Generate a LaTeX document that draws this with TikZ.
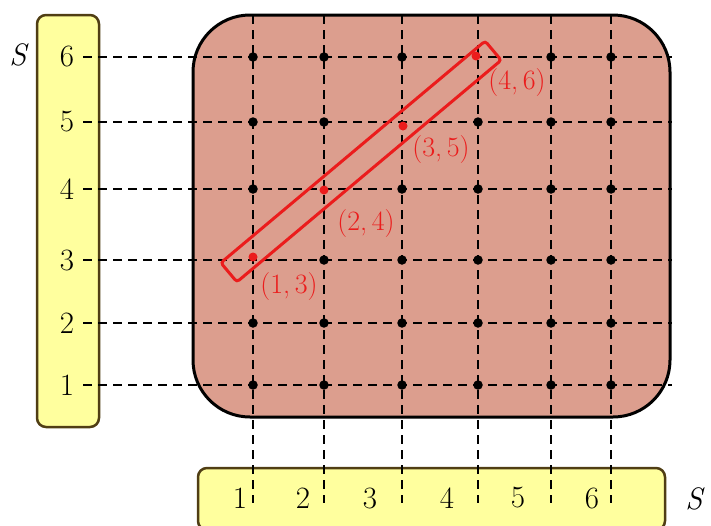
\documentclass[tikz,border=0pt]{standalone}
\definecolor{boxfill}{RGB}{220,158,142}
\definecolor{axfill}{RGB}{255,255,158}
\definecolor{axdraw}{RGB}{80,62,20}
\definecolor{hired}{RGB}{235,28,28}
\tikzset{
  axisbox/.style={draw=axdraw, fill=axfill, line width=2.5pt, rounded corners=9pt},
  samplebox/.style={draw=black, fill=boxfill, line width=3pt, rounded corners=57pt},
  gridline/.style={dash pattern=on 9pt off 6pt, line width=1.8pt, black},
  axlabel/.style={font=\fontsize{31}{34}\selectfont, inner sep=0pt},
  dot/.style={circle, fill=black, inner sep=0pt, minimum size=9.5pt},
  reddot/.style={circle, fill=hired, inner sep=0pt, minimum size=9pt},
  redlabel/.style={font=\fontsize{28}{30}\selectfont, text=hired, inner sep=0pt},
  eventbox/.style={draw=hired, line width=3pt, rounded corners=3pt, rotate=40,
    minimum width=345pt, minimum height=25pt, inner sep=0pt}
}
\begin{document}
\begin{tikzpicture}[x=1pt, y=-1pt]
\useasboundingbox (0,0) rectangle (711,525);
% boxes
\draw[axisbox] (37,15) rectangle (99,427);
\draw[samplebox] (193,15) rectangle (670,417);
\draw[axisbox] (198,468) rectangle (665,530);
% axis labels
\node[axlabel] (S1) at (19,55) {\textit{S}};
\node[axlabel] (S2) at (695,499) {\textit{S}};
\foreach \n/\y in {1/385,2/323,3/260,4/189,5/122,6/57}{
  \node[axlabel] (l\n) at (67,\y) {\n};
  \coordinate (ha\n) at (83,\y);
  \coordinate (hb\n) at (672,\y);
}
\foreach \n/\x in {1/240,2/303,3/370,4/447,5/518,6/592}{
  \node[axlabel] (b\n) at (\x,498) {\n};
}
\foreach \n/\x in {1/253,2/324,3/402,4/478,5/551,6/611}{
  \coordinate (va\n) at (\x,15);
  \coordinate (vb\n) at (\x,503);
}
% grid lines
\foreach \n in {1,...,6}{
  \draw[gridline] (ha\n) -- (hb\n);
  \draw[gridline] (va\n) -- (vb\n);
}
% dots
\foreach \i/\x in {1/253,2/324,3/402,4/478,5/551,6/611}{
  \foreach \j/\y in {1/385,2/323,3/260,4/189,5/122,6/57}{
    \pgfmathtruncatemacro{\dd}{\j-\i}
    \ifnum\dd=2\relax\else
      \node[dot] (d\i\j) at (\x,\y) {};
    \fi
  }
}
% highlighted outcomes
\node[reddot] (r13) at (253,257) {};
\node[reddot] (r24) at (324,190) {};
\node[reddot] (r35) at (403,126) {};
\node[reddot] (r46) at (476,56) {};
\node[eventbox] (ev) at (361,161.5) {};
\node[redlabel] (t13) at (289,287) {(1,\,3)};
\node[redlabel] (t24) at (366,224) {(2,\,4)};
\node[redlabel] (t35) at (441,150) {(3,\,5)};
\node[redlabel] (t46) at (517,83) {(4,\,6)};
\end{tikzpicture}
\end{document}
